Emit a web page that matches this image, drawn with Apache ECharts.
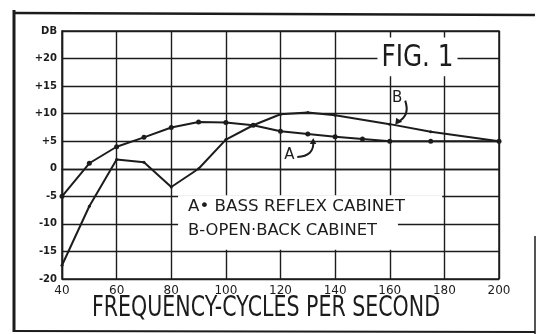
<!DOCTYPE html>
<html>
<head>
<meta charset="utf-8">
<script src="https://cdn.jsdelivr.net/npm/echarts@6/dist/echarts.min.js"></script>
<style>
  html, body { margin: 0; padding: 0; background: #ffffff; }
  #chart { width: 537px; height: 334px; }
</style>
</head>
<body>
<div id="chart"></div>
<script>
// Frequency axis (cycles per second) and response axis (decibels)
const freqTicks = [40, 60, 80, 100, 120, 140, 160, 180, 200];
const dbTicks = [-20, -15, -10, -5, 0, 5, 10, 15, 20, 25];
const dbTickLabels = ['-20', '-15', '-10', '-5', '0', '+5', '+10', '+15', '+20', 'DB'];

// Curve A: bass reflex cabinet
const bassReflexFreq = [40, 50, 60, 70, 80, 90, 100, 110, 120, 130, 140, 150, 160, 175, 200];
const bassReflexDb   = [-5, 1, 4, 5.7, 7.5, 8.5, 8.4, 7.9, 6.8, 6.3, 5.8, 5.4, 5, 5, 5];

// Curve B: open back cabinet
const openBackFreq = [40, 50, 60, 70, 80, 90, 100, 110, 120, 130, 140, 160, 175, 200];
const openBackDb   = [-17.5, -6.8, 1.7, 1.2, -3.3, 0, 5.3, 7.9, 9.9, 10.2, 9.7, 8.1, 6.7, 5];

const legendLines = ['A\u2022 BASS REFLEX CABINET', 'B-OPEN\u00B7BACK CABINET'];
const figureLabel = 'FIG. 1';
const axisTitle = 'FREQUENCY-CYCLES PER SECOND';

const INK = '#1c1c1c';
const FONT = '"DejaVu Sans", "Liberation Sans", sans-serif';

const zip = (xs, ys) => xs.map((x, i) => [x, ys[i]]);

// measure text so hand-lettered widths can be reproduced with a horizontal scale
const measureCtx = document.createElement('canvas').getContext('2d');
function widthScale(text, size, weight, target) {
  measureCtx.font = (weight || 'normal') + ' ' + size + 'px ' + FONT;
  return target / measureCtx.measureText(text).width;
}

const chart = echarts.init(document.getElementById('chart'), null, { renderer: 'canvas' });

const gridLine = { color: INK, width: 1.4 };

chart.setOption({
  animation: false,
  backgroundColor: '#ffffff',
  grid: {
    left: 62, right: 38, top: 31, bottom: 55,
    show: true, borderColor: INK, borderWidth: 1.5, backgroundColor: 'transparent'
  },
  xAxis: {
    type: 'value',
    min: 40, max: 200, interval: 20,
    axisLine: { show: true, lineStyle: gridLine },
    axisTick: { show: false },
    splitLine: { show: true, lineStyle: gridLine },
    axisLabel: {
      color: INK, fontFamily: FONT, fontSize: 12, margin: 6,
      formatter: v => String(freqTicks[freqTicks.indexOf(v)])
    }
  },
  yAxis: {
    type: 'value',
    min: -20, max: 25, interval: 5,
    axisLine: { show: true, lineStyle: gridLine },
    axisTick: { show: false },
    splitLine: { show: true, lineStyle: gridLine },
    axisLabel: {
      color: INK, fontFamily: FONT, fontSize: 10, fontWeight: 'bold', margin: 5,
      formatter: v => dbTickLabels[dbTicks.indexOf(v)]
    }
  },
  series: [
    {
      name: 'A',
      type: 'line',
      z: 10,
      data: zip(bassReflexFreq, bassReflexDb),
      symbol: 'circle', symbolSize: 5,
      itemStyle: { color: INK },
      lineStyle: { color: INK, width: 2 }
    },
    {
      name: 'B',
      type: 'line',
      z: 10,
      data: zip(openBackFreq, openBackDb),
      symbol: 'circle', symbolSize: 3,
      itemStyle: { color: INK },
      lineStyle: { color: INK, width: 2 }
    }
  ]
});

const px = (f, d) => chart.convertToPixel({ gridIndex: 0 }, [f, d]);

// white panels behind the lettering, aligned to the grid
const p1a = px(82.5, -4.8), p1b = px(179.2, -9.8);
const p2a = px(82.5, -9.4), p2b = px(163, -14.7);
const pFa = px(155.5, 23.8), pFb = px(184.8, 16.8);

// arrow tips touching each curve
const tipA = px(132, 5.6);
const tipB = px(162, 8.0);

const graphics = [];

// figure frame
graphics.push(
  { type: 'line', z: 20, shape: { x1: 14, y1: 13, x2: 535, y2: 15 }, style: { stroke: INK, lineWidth: 2.5 } },
  { type: 'line', z: 20, shape: { x1: 14, y1: 10, x2: 14, y2: 332 }, style: { stroke: INK, lineWidth: 3 } },
  { type: 'line', z: 20, shape: { x1: 14, y1: 331, x2: 535, y2: 332 }, style: { stroke: INK, lineWidth: 2 } },
  { type: 'line', z: 20, shape: { x1: 535, y1: 236, x2: 535, y2: 334 }, style: { stroke: INK, lineWidth: 1.5 } }
);

// panels
graphics.push(
  { type: 'rect', z: 5, shape: { x: p1a[0], y: p1a[1], width: p1b[0] - p1a[0], height: p1b[1] - p1a[1] }, style: { fill: '#ffffff' } },
  { type: 'rect', z: 5, shape: { x: p2a[0], y: p2a[1], width: p2b[0] - p2a[0], height: p2b[1] - p2a[1] }, style: { fill: '#ffffff' } },
  { type: 'rect', z: 5, shape: { x: pFa[0], y: pFa[1], width: pFb[0] - pFa[0], height: pFb[1] - pFa[1] }, style: { fill: '#ffffff' } }
);

// legend lettering
const legendX = 188;
const legendY = [p1a[1] + 11.5, p2a[1] + 10.5];
const legendW = [217, 189];
const legendSize = [16, 15];
legendLines.forEach((t, i) => {
  graphics.push({
    type: 'text', z: 6, x: legendX, y: legendY[i],
    scaleX: widthScale(t, legendSize[i], 'normal', legendW[i]),
    style: { text: t, font: legendSize[i] + 'px ' + FONT, fill: INK, textAlign: 'left', textVerticalAlign: 'middle' }
  });
});

// figure number
graphics.push({
  type: 'text', z: 6, x: (pFa[0] + pFb[0]) / 2, y: px(180, 20)[1] - 0.5,
  scaleX: widthScale(figureLabel, 30, 'normal', 72),
  style: { text: figureLabel, font: '30px ' + FONT, fill: INK, textAlign: 'center', textVerticalAlign: 'middle' }
});

// axis title
graphics.push({
  type: 'text', z: 6, x: 266, y: 309,
  scaleX: widthScale(axisTitle, 28, 'normal', 348),
  style: { text: axisTitle, font: '28px ' + FONT, fill: INK, textAlign: 'center', textVerticalAlign: 'middle' }
});

// curve labels with hooked arrows
graphics.push(
  { type: 'text', z: 12, x: tipA[0] - 24, y: tipA[1] + 17,
    style: { text: 'A', font: '15px ' + FONT, fill: INK, textAlign: 'center', textVerticalAlign: 'middle' } },
  { type: 'bezierCurve', z: 12,
    shape: { x1: tipA[0] - 16, y1: tipA[1] + 19, cpx1: tipA[0] + 1, cpy1: tipA[1] + 18, x2: tipA[0], y2: tipA[1] + 4 },
    style: { stroke: INK, lineWidth: 2, fill: null } },
  { type: 'polygon', z: 12,
    shape: { points: [[tipA[0], tipA[1]], [tipA[0] - 3.5, tipA[1] + 6], [tipA[0] + 3, tipA[1] + 6]] },
    style: { fill: INK } },
  { type: 'text', z: 12, x: tipB[0] + 2, y: tipB[1] - 27,
    style: { text: 'B', font: '15px ' + FONT, fill: INK, textAlign: 'center', textVerticalAlign: 'middle' } },
  { type: 'bezierCurve', z: 12,
    shape: { x1: tipB[0] + 10, y1: tipB[1] - 24, cpx1: tipB[0] + 15, cpy1: tipB[1] - 9, x2: tipB[0] + 3, y2: tipB[1] - 3 },
    style: { stroke: INK, lineWidth: 2, fill: null } },
  { type: 'polygon', z: 12,
    shape: { points: [[tipB[0], tipB[1]], [tipB[0] + 1, tipB[1] - 7], [tipB[0] + 7, tipB[1] - 3]] },
    style: { fill: INK } }
);

chart.setOption({ graphic: { elements: graphics } });
</script>
</body>
</html>
